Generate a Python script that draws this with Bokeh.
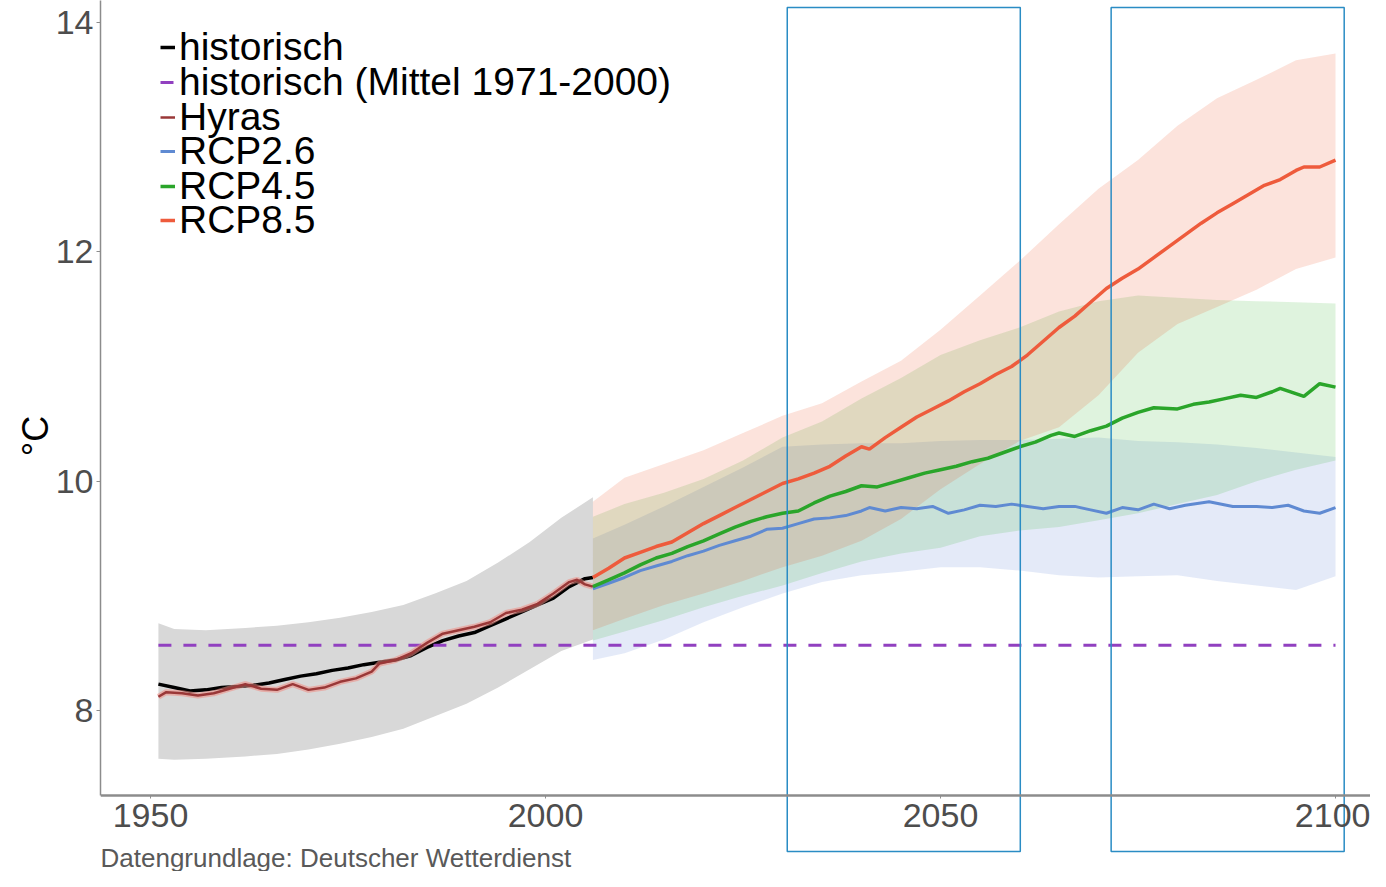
from bokeh.plotting import figure
from bokeh.models import Range1d, Label, FixedTicker, Legend, LegendItem
from bokeh.embed import file_html
from bokeh.resources import INLINE

# ---------------- data ----------------
hist_years = [1951, 1953, 1955, 1957, 1959, 1961, 1963, 1965, 1967, 1969, 1971, 1973, 1975,
              1977, 1979, 1981, 1983, 1985, 1987, 1989, 1991, 1993, 1995, 1997, 1999, 2001,
              2003, 2005, 2006]
hist_vals = [8.23, 8.20, 8.17, 8.18, 8.20, 8.21, 8.22, 8.24, 8.27, 8.30, 8.32, 8.35, 8.37,
             8.40, 8.42, 8.44, 8.48, 8.55, 8.61, 8.65, 8.68, 8.74, 8.80, 8.86, 8.92, 8.98,
             9.08, 9.15, 9.16]

hyras_years = [1951, 1952, 1954, 1956, 1958, 1960, 1962, 1964, 1966, 1968, 1970, 1972, 1974,
               1976, 1978, 1979, 1981, 1983, 1985, 1987, 1989, 1991, 1993, 1995, 1997, 1999,
               2001, 2003, 2004, 2005, 2006]
hyras_vals = [8.12, 8.16, 8.15, 8.13, 8.15, 8.19, 8.23, 8.19, 8.18, 8.23, 8.18, 8.20, 8.25,
              8.28, 8.34, 8.41, 8.44, 8.50, 8.59, 8.67, 8.70, 8.73, 8.77, 8.85, 8.88, 8.93,
              9.02, 9.12, 9.14, 9.10, 9.08]

hist_band_years = [1951, 1953, 1957, 1962, 1966, 1970, 1974, 1978, 1982, 1986, 1990, 1994,
                   1998, 2002, 2006]
hist_band_upper = [8.76, 8.71, 8.70, 8.72, 8.74, 8.77, 8.81, 8.86, 8.92, 9.02, 9.13, 9.29,
                   9.47, 9.68, 9.86]
hist_band_lower = [7.58, 7.57, 7.58, 7.60, 7.62, 7.66, 7.71, 7.77, 7.84, 7.95, 8.06, 8.20,
                   8.36, 8.52, 8.62]

mean_years = [1951, 2100]
mean_value = 8.57  # historisch (Mittel 1971-2000)

rcp85_years = [2006, 2008, 2010, 2012, 2014, 2016, 2018, 2020, 2022, 2024, 2026, 2028, 2030,
               2032, 2034, 2036, 2038, 2040, 2041, 2043, 2045, 2047, 2049, 2051, 2053, 2055,
               2057, 2059, 2061, 2063, 2065, 2067, 2069, 2071, 2073, 2075, 2077, 2079, 2081,
               2083, 2085, 2087, 2089, 2091, 2093, 2095, 2096, 2098, 2100]
rcp85_vals = [9.16, 9.24, 9.33, 9.38, 9.43, 9.47, 9.55, 9.63, 9.70, 9.77, 9.84, 9.91, 9.98,
              10.02, 10.07, 10.13, 10.22, 10.30, 10.28, 10.38, 10.47, 10.56, 10.63, 10.70,
              10.78, 10.85, 10.93, 11.00, 11.10, 11.22, 11.34, 11.44, 11.56, 11.68, 11.77,
              11.85, 11.95, 12.05, 12.15, 12.25, 12.34, 12.42, 12.50, 12.58, 12.63, 12.71,
              12.74, 12.74, 12.80]

rcp45_years = [2006, 2008, 2010, 2012, 2014, 2016, 2018, 2020, 2022, 2024, 2026, 2028, 2030,
               2032, 2034, 2036, 2038, 2040, 2042, 2044, 2046, 2048, 2050, 2052, 2054, 2056,
               2058, 2060, 2062, 2064, 2065, 2067, 2069, 2071, 2073, 2075, 2077, 2080, 2082,
               2084, 2086, 2088, 2090, 2092, 2093, 2096, 2098, 2100]
rcp45_vals = [9.08, 9.14, 9.20, 9.27, 9.33, 9.37, 9.43, 9.48, 9.54, 9.60, 9.65, 9.69, 9.72,
              9.74, 9.81, 9.87, 9.91, 9.96, 9.95, 9.99, 10.03, 10.07, 10.10, 10.13, 10.17,
              10.20, 10.25, 10.30, 10.34, 10.40, 10.42, 10.39, 10.44, 10.48, 10.55, 10.60,
              10.64, 10.63, 10.67, 10.69, 10.72, 10.75, 10.73, 10.78, 10.81, 10.74, 10.85,
              10.82]

rcp26_years = [2006, 2008, 2010, 2012, 2014, 2016, 2018, 2020, 2022, 2024, 2026, 2028, 2030,
               2032, 2034, 2036, 2038, 2040, 2041, 2043, 2045, 2047, 2049, 2051, 2053, 2055,
               2057, 2059, 2061, 2063, 2065, 2067, 2069, 2071, 2073, 2075, 2077, 2079, 2081,
               2084, 2087, 2090, 2092, 2094, 2096, 2098, 2100]
rcp26_vals = [9.06, 9.11, 9.16, 9.22, 9.26, 9.30, 9.35, 9.39, 9.44, 9.48, 9.52, 9.58, 9.59,
              9.63, 9.67, 9.68, 9.70, 9.74, 9.77, 9.74, 9.77, 9.76, 9.78, 9.72, 9.75, 9.79,
              9.78, 9.80, 9.78, 9.76, 9.78, 9.78, 9.75, 9.72, 9.77, 9.75, 9.80, 9.76, 9.79,
              9.82, 9.78, 9.78, 9.77, 9.79, 9.74, 9.72, 9.77]

band_years = [2006, 2010, 2015, 2020, 2025, 2030, 2035, 2040, 2045, 2050, 2055, 2060, 2065,
              2070, 2075, 2080, 2085, 2090, 2095, 2100]
rcp85_upper = [9.82, 10.03, 10.15, 10.27, 10.42, 10.57, 10.68, 10.87, 11.05, 11.32, 11.62,
               11.92, 12.24, 12.55, 12.80, 13.10, 13.34, 13.50, 13.67, 13.73]
rcp85_lower = [8.70, 8.80, 8.92, 9.02, 9.13, 9.25, 9.35, 9.48, 9.67, 9.93, 10.15, 10.35,
               10.47, 10.75, 11.12, 11.37, 11.52, 11.67, 11.85, 11.95]
rcp45_upper = [9.69, 9.80, 9.90, 10.02, 10.18, 10.38, 10.52, 10.72, 10.90, 11.10, 11.23,
               11.34, 11.48, 11.57, 11.62, 11.60, 11.58, 11.57, 11.56, 11.55]
rcp45_lower = [8.61, 8.69, 8.79, 8.90, 9.00, 9.09, 9.20, 9.30, 9.37, 9.42, 9.52, 9.57, 9.60,
               9.66, 9.72, 9.80, 9.88, 10.00, 10.10, 10.18]
rcp26_upper = [9.50, 9.62, 9.78, 9.95, 10.12, 10.30, 10.32, 10.33, 10.33, 10.35, 10.36,
               10.36, 10.37, 10.38, 10.35, 10.34, 10.32, 10.29, 10.25, 10.21]
rcp26_lower = [8.44, 8.50, 8.62, 8.77, 8.90, 9.02, 9.12, 9.18, 9.21, 9.25, 9.25, 9.22, 9.18,
               9.16, 9.17, 9.18, 9.13, 9.09, 9.05, 9.17]

# highlighted periods (blue frames)
box_left = [2030.6, 2071.6]
box_right = [2060.1, 2101.1]
box_bottom = [6.77, 6.77]
box_top = [14.131, 14.131]

x_ticks = [1950, 2000, 2050, 2100]
y_ticks = [8, 10, 12, 14]

legend_labels = ["historisch", "historisch (Mittel 1971-2000)", "Hyras",
                 "RCP2.6", "RCP4.5", "RCP8.5"]

# ---------------- figure ----------------
FONT = "Liberation Sans"
W, H = 1370, 871

p = figure(width=W, height=H, output_backend="svg", toolbar_location=None,
           x_range=Range1d(1943.67, 2104.43), y_range=Range1d(6.596, 14.192),
           min_border_left=100, min_border_right=0, min_border_top=0, min_border_bottom=0)
p.outline_line_color = None
p.grid.visible = False
p.background_fill_color = "white"

# historical spread
p.varea(x=hist_band_years, y1=hist_band_lower, y2=hist_band_upper,
        fill_color="#D8D8D8", fill_alpha=1.0)

# scenario spreads
p.varea(x=band_years, y1=rcp26_lower, y2=rcp26_upper, fill_color="#4B73D1", fill_alpha=0.15)
p.varea(x=band_years, y1=rcp45_lower, y2=rcp45_upper, fill_color="#2AAF23", fill_alpha=0.15)
p.varea(x=band_years, y1=rcp85_lower, y2=rcp85_upper, fill_color="#EB3708", fill_alpha=0.14)

# lines
r_hist = p.line(hist_years, hist_vals, line_color="black", line_width=3.5)
r_mean = p.line(mean_years, [mean_value, mean_value], line_color="#9140C0", line_width=3,
                line_dash="13 12")
p.line(hyras_years, hyras_vals, line_color="#F08C84", line_width=6, line_alpha=0.55)
r_hyras = p.line(hyras_years, hyras_vals, line_color="#9A3838", line_width=2.5)
r_26 = p.line(rcp26_years, rcp26_vals, line_color="#5F8AD2", line_width=3)
r_45 = p.line(rcp45_years, rcp45_vals, line_color="#2AA52A", line_width=3.5)
r_85 = p.line(rcp85_years, rcp85_vals, line_color="#EE5B3C", line_width=3.5)

# highlight frames
p.quad(left=box_left, right=box_right, bottom=box_bottom, top=box_top,
       fill_alpha=0, line_color="#2A8CC4", line_width=1.5)

# axes
p.xaxis.fixed_location = 7.26
p.xaxis.bounds = (1943.67, 2104.43)
p.xaxis.ticker = FixedTicker(ticks=x_ticks)
p.xaxis.axis_line_color = "#8C8C8C"
p.xaxis.axis_line_width = 2.5
p.xaxis.major_tick_line_color = "#8C8C8C"
p.xaxis.major_tick_out = 3
p.xaxis.major_tick_in = 0
p.xaxis.minor_tick_line_color = None
p.xaxis.major_label_standoff = 6
p.xaxis.major_label_text_font = FONT
p.xaxis.major_label_text_font_size = "34px"
p.xaxis.major_label_text_color = "#4D4D4D"

p.yaxis.bounds = (7.26, 14.192)
p.yaxis.ticker = FixedTicker(ticks=y_ticks)
p.yaxis.axis_line_color = "#8C8C8C"
p.yaxis.axis_line_width = 1.5
p.yaxis.major_tick_line_color = "#8C8C8C"
p.yaxis.major_tick_out = 4
p.yaxis.major_tick_in = 0
p.yaxis.minor_tick_line_color = None
p.yaxis.major_label_standoff = 3
p.yaxis.major_label_text_font = FONT
p.yaxis.major_label_text_font_size = "34px"
p.yaxis.major_label_text_color = "#4D4D4D"
p.yaxis.axis_label = "°C"
p.yaxis.axis_label_text_font = FONT
p.yaxis.axis_label_text_font_size = "36px"
p.yaxis.axis_label_text_font_style = "normal"
p.yaxis.axis_label_text_color = "black"
p.yaxis.axis_label_standoff = -3

# legend: one entry per Legend so the rows can sit as tightly as in the original
legend_renderers = [r_hist, r_mean, r_hyras, r_26, r_45, r_85]
row_centers = [47, 82, 117, 151, 186, 220]   # screen px from the top
ITEM_H = 44
for label, rend, cy in zip(legend_labels, legend_renderers, row_centers):
    lg = Legend(items=[LegendItem(label=label, renderers=[rend])],
                location=(60, H - cy - ITEM_H // 2),
                label_text_font=FONT, label_text_font_size="39px",
                label_text_color="black", glyph_width=15, glyph_height=20,
                label_standoff=4, padding=0, margin=0, spacing=0,
                border_line_alpha=0, background_fill_alpha=0)
    p.add_layout(lg)

# caption
p.add_layout(Label(text="Datengrundlage: Deutscher Wetterdienst",
                   x=0, y=14, x_units="screen", y_units="screen",
                   text_baseline="middle", text_align="left",
                   text_font=FONT, text_font_size="26px", text_color="#595959"))

open("out.html", "w").write(file_html(p, INLINE))
